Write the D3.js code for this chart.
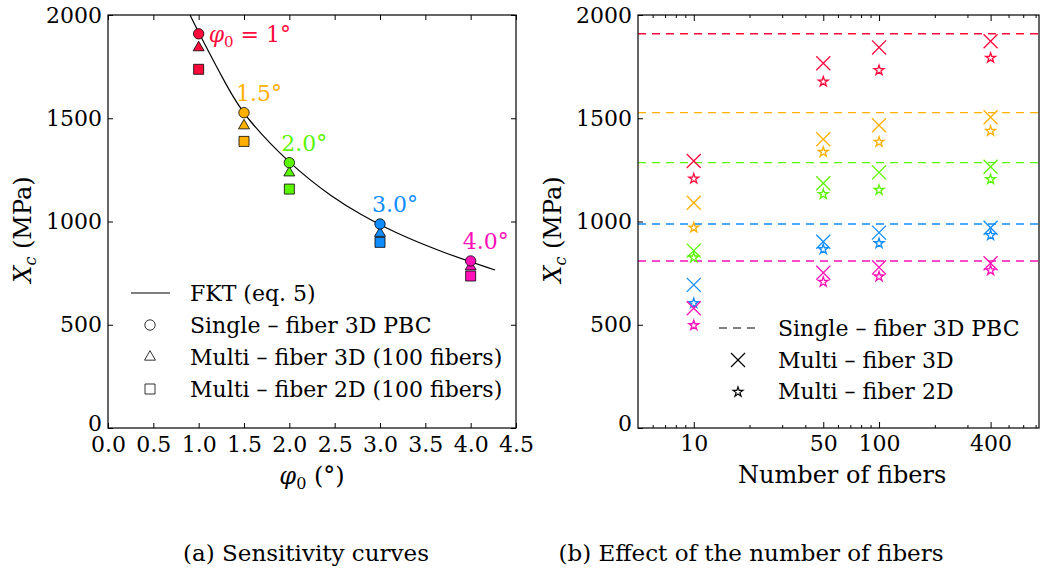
<!DOCTYPE html>
<html>
<head>
<meta charset="utf-8">
<script src="https://cdn.jsdelivr.net/npm/d3@7"></script>
<style>
body { margin: 0; background: white; }
svg { display: block; }
</style>
</head>
<body>
<svg width="1040" height="571" font-family="'DejaVu Serif', 'Liberation Serif', serif"></svg>
<script>
const svg = d3.select('svg');

// ---- data ----
const phi = [1.0, 1.5, 2.0, 3.0, 4.0];
const phiLabels = ['1°', '1.5°', '2.0°', '3.0°', '4.0°'];
const colors = ['#ff0a3c', '#ffb000', '#5cf500', '#0f8cff', '#ff10b8'];
const single3D = [1909, 1527, 1285, 988, 809];
const multi3D100 = [1842, 1464, 1236, 943, 781];
const multi2D100 = [1737, 1388, 1157, 899, 736];
const fktPhi = [0.905, 1.0, 1.323, 1.5, 2.0, 2.5, 2.78, 3.14, 3.69, 4.27];
const fktXc = [2000, 1915, 1645, 1512, 1278, 1108, 1036, 950, 850, 765];
const nFibers = [10, 50, 100, 400];
const multi3D = [
    [1293, 1766, 1843, 1873],
    [1091, 1398, 1466, 1505],
    [859, 1185, 1238, 1265],
    [693, 902, 946, 970],
    [580, 752, 778, 798]
];
const multi2D = [
    [1212, 1682, 1737, 1797],
    [975, 1341, 1390, 1443],
    [830, 1137, 1157, 1209],
    [609, 870, 899, 938],
    [502, 712, 738, 768]
];
const yTicks = [0, 500, 1000, 1500, 2000];
const phiTicks = [0, 0.5, 1, 1.5, 2, 2.5, 3, 3.5, 4, 4.5];
const nMinor = [6, 7, 8, 9, 20, 30, 40, 60, 70, 80, 90, 200, 300, 500, 600, 700];

const FS = 22;

const styleAxis = g => {
    g.attr('font-family', null).attr('font-size', FS);
    g.select('.domain').remove();
    g.selectAll('line').attr('stroke', '#000').attr('stroke-width', 1);
};
// the "0" label sits a bit higher so it clears the x labels
const liftZero = g => g.selectAll('.tick text').filter(d => d === 0).attr('dy', '0.1em');

const sym = (type, size) => d3.symbol().type(type).size(size)();

// ---- (a) Sensitivity curves ----
const A = {left: 108, top: 15, w: 408, h: 413};
const ga = svg.append('g').attr('transform', `translate(${A.left},${A.top})`);
const xa = d3.scaleLinear().domain([0, 4.5]).range([0, A.w]);
const ya = d3.scaleLinear().domain([0, 2000]).range([A.h, 0]);

ga.append('g').attr('transform', `translate(0,${A.h})`)
    .call(d3.axisBottom(xa).tickValues(phiTicks).tickFormat(d3.format('.1f')).tickSizeInner(-5).tickSizeOuter(0).tickPadding(8))
    .call(styleAxis);
ga.append('g')
    .call(d3.axisTop(xa).tickValues(phiTicks).tickFormat('').tickSizeInner(-5).tickSizeOuter(0))
    .call(styleAxis);
ga.append('g')
    .call(d3.axisLeft(ya).tickValues(yTicks).tickFormat(d3.format('d')).tickSizeInner(-5).tickSizeOuter(0).tickPadding(6))
    .call(styleAxis).call(liftZero);
ga.append('g').attr('transform', `translate(${A.w},0)`)
    .call(d3.axisRight(ya).tickValues(yTicks).tickFormat('').tickSizeInner(-5).tickSizeOuter(0))
    .call(styleAxis);

ga.append('clipPath').attr('id', 'clipA').append('rect').attr('width', A.w).attr('height', A.h);

ga.append('path')
    .datum(fktPhi.map((p, i) => [p, fktXc[i]]))
    .attr('clip-path', 'url(#clipA)')
    .attr('fill', 'none').attr('stroke', '#000').attr('stroke-width', 1.2)
    .attr('d', d3.line().x(d => xa(d[0])).y(d => ya(d[1])).curve(d3.curveBasis));

const markA = [
    {vals: multi2D100, type: d3.symbolSquare, size: 100},
    {vals: multi3D100, type: d3.symbolTriangle, size: 52},
    {vals: single3D, type: d3.symbolCircle, size: 85}
];
markA.forEach(m => {
    ga.selectAll(null).data(phi).enter().append('path')
        .attr('transform', (d, i) => `translate(${xa(d)},${ya(m.vals[i])})`)
        .attr('d', sym(m.type, m.size))
        .attr('fill', (d, i) => colors[i])
        .attr('stroke', '#000').attr('stroke-width', 0.8);
});

// angle labels
phi.forEach((p, i) => {
    const t = ga.append('text').attr('font-size', FS).attr('fill', colors[i]);
    if (i === 0) {
        t.attr('x', xa(p) + 10).attr('y', ya(single3D[i]) + 8);
        t.append('tspan').attr('font-style', 'italic').text('φ');
        t.append('tspan').attr('font-size', 15).attr('dy', 5).text('0');
        t.append('tspan').attr('dy', -5).text(' = ' + phiLabels[i]);
    } else {
        t.attr('x', xa(p) - 8).attr('y', ya(single3D[i]) - 12).text(phiLabels[i]);
    }
});

// legend (a)
const legA = ga.append('g').attr('font-size', FS);
const legAy = [278, 310, 342, 374];
legA.append('line').attr('x1', 23).attr('x2', 62).attr('y1', legAy[0]).attr('y2', legAy[0])
    .attr('stroke', '#000').attr('stroke-width', 1.2);
[[d3.symbolCircle, 85], [d3.symbolTriangle, 52], [d3.symbolSquare, 100]].forEach((s, i) => {
    legA.append('path').attr('transform', `translate(42,${legAy[i + 1]})`)
        .attr('d', sym(s[0], s[1])).attr('fill', 'white').attr('stroke', '#000').attr('stroke-width', 0.8);
});
['FKT (eq. 5)', 'Single – fiber 3D PBC', 'Multi – fiber 3D (100 fibers)', 'Multi – fiber 2D (100 fibers)']
    .forEach((s, i) => legA.append('text').attr('x', 82).attr('y', legAy[i]).attr('dy', '0.35em').text(s));

// axis titles (a)
const ylabA = ga.append('text').attr('font-size', FS + 2).attr('text-anchor', 'middle')
    .attr('transform', `translate(${-A.left + 31},${A.h / 2 + 8}) rotate(-90)`);
ylabA.append('tspan').attr('font-style', 'italic').text('X');
ylabA.append('tspan').attr('font-style', 'italic').attr('font-size', 16).attr('dy', 5).text('c');
ylabA.append('tspan').attr('dy', -5).text(' (MPa)');

const xlabA = ga.append('text').attr('font-size', FS + 2).attr('text-anchor', 'middle')
    .attr('x', A.w / 2).attr('y', A.h + 56);
xlabA.append('tspan').attr('font-style', 'italic').text('φ');
xlabA.append('tspan').attr('font-size', 16).attr('dy', 5).text('0');
xlabA.append('tspan').attr('dy', -5).text(' (°)');

// ---- (b) Effect of the number of fibers ----
const B = {left: 638, top: 15, w: 401, h: 413};
const gb = svg.append('g').attr('transform', `translate(${B.left},${B.top})`);
const xb = d3.scaleLog().domain([5, 730]).range([0, B.w]);
const yb = d3.scaleLinear().domain([0, 2000]).range([B.h, 0]);

gb.append('g').attr('transform', `translate(0,${B.h})`)
    .call(d3.axisBottom(xb).tickValues(nFibers).tickFormat(d3.format('d')).tickSizeInner(-6).tickSizeOuter(0).tickPadding(7))
    .call(styleAxis);
gb.append('g').attr('transform', `translate(0,${B.h})`)
    .call(d3.axisBottom(xb).tickValues(nMinor).tickFormat('').tickSizeInner(-3).tickSizeOuter(0))
    .call(styleAxis);
gb.append('g')
    .call(d3.axisTop(xb).tickValues(nFibers).tickFormat('').tickSizeInner(-6).tickSizeOuter(0))
    .call(styleAxis);
gb.append('g')
    .call(d3.axisTop(xb).tickValues(nMinor).tickFormat('').tickSizeInner(-3).tickSizeOuter(0))
    .call(styleAxis);
gb.append('g')
    .call(d3.axisLeft(yb).tickValues(yTicks).tickFormat(d3.format('d')).tickSizeInner(-5).tickSizeOuter(0).tickPadding(6))
    .call(styleAxis).call(liftZero);

// reference lines from single-fiber model
gb.selectAll(null).data(single3D).enter().append('line')
    .attr('x1', 0).attr('x2', B.w)
    .attr('y1', d => yb(d)).attr('y2', d => yb(d))
    .attr('stroke', (d, i) => colors[i]).attr('stroke-width', 1.4).attr('stroke-dasharray', '8,6');

colors.forEach((c, k) => {
    gb.selectAll(null).data(nFibers).enter().append('path')
        .attr('transform', (d, i) => `translate(${xb(d)},${yb(multi3D[k][i])})`)
        .attr('d', sym(d3.symbolTimes, 130))
        .attr('fill', 'none').attr('stroke', c).attr('stroke-width', 1.3);
    gb.selectAll(null).data(nFibers).enter().append('path')
        .attr('transform', (d, i) => `translate(${xb(d)},${yb(multi2D[k][i]) + 1})`)
        .attr('d', sym(d3.symbolStar, 30))
        .attr('fill', 'white').attr('stroke', c).attr('stroke-width', 1.3);
});

// legend (b)
const legB = gb.append('g').attr('font-size', FS);
const legBy = [313, 345, 376];
legB.append('line').attr('x1', 81).attr('x2', 119).attr('y1', legBy[0]).attr('y2', legBy[0])
    .attr('stroke', '#000').attr('stroke-width', 1.2).attr('stroke-dasharray', '8,6');
legB.append('path').attr('transform', `translate(100,${legBy[1]})`)
    .attr('d', sym(d3.symbolTimes, 130)).attr('fill', 'none').attr('stroke', '#000').attr('stroke-width', 1.2);
legB.append('path').attr('transform', `translate(100,${legBy[2] + 1})`)
    .attr('d', sym(d3.symbolStar, 30)).attr('fill', 'white').attr('stroke', '#000').attr('stroke-width', 1.2);
['Single – fiber 3D PBC', 'Multi – fiber 3D', 'Multi – fiber 2D']
    .forEach((s, i) => legB.append('text').attr('x', 140).attr('y', legBy[i]).attr('dy', '0.35em').text(s));

// frame on top of everything
gb.append('rect').attr('width', B.w).attr('height', B.h).attr('fill', 'none').attr('stroke', '#000').attr('stroke-width', 1.2);
ga.append('rect').attr('width', A.w).attr('height', A.h).attr('fill', 'none').attr('stroke', '#000').attr('stroke-width', 1.2);

const ylabB = gb.append('text').attr('font-size', FS + 2).attr('text-anchor', 'middle')
    .attr('transform', `translate(${-77},${B.h / 2 + 8}) rotate(-90)`);
ylabB.append('tspan').attr('font-style', 'italic').text('X');
ylabB.append('tspan').attr('font-style', 'italic').attr('font-size', 16).attr('dy', 5).text('c');
ylabB.append('tspan').attr('dy', -5).text(' (MPa)');

gb.append('text').attr('font-size', FS + 2).attr('text-anchor', 'middle')
    .attr('x', xb(Math.sqrt(10 * 400))).attr('y', B.h + 55).text('Number of fibers');

// captions
svg.append('text').attr('font-size', 23).attr('text-anchor', 'middle')
    .attr('x', 306).attr('y', 561).text('(a) Sensitivity curves');
svg.append('text').attr('font-size', 23).attr('text-anchor', 'middle')
    .attr('x', 751).attr('y', 561).text('(b) Effect of the number of fibers');
</script>
</body>
</html>
